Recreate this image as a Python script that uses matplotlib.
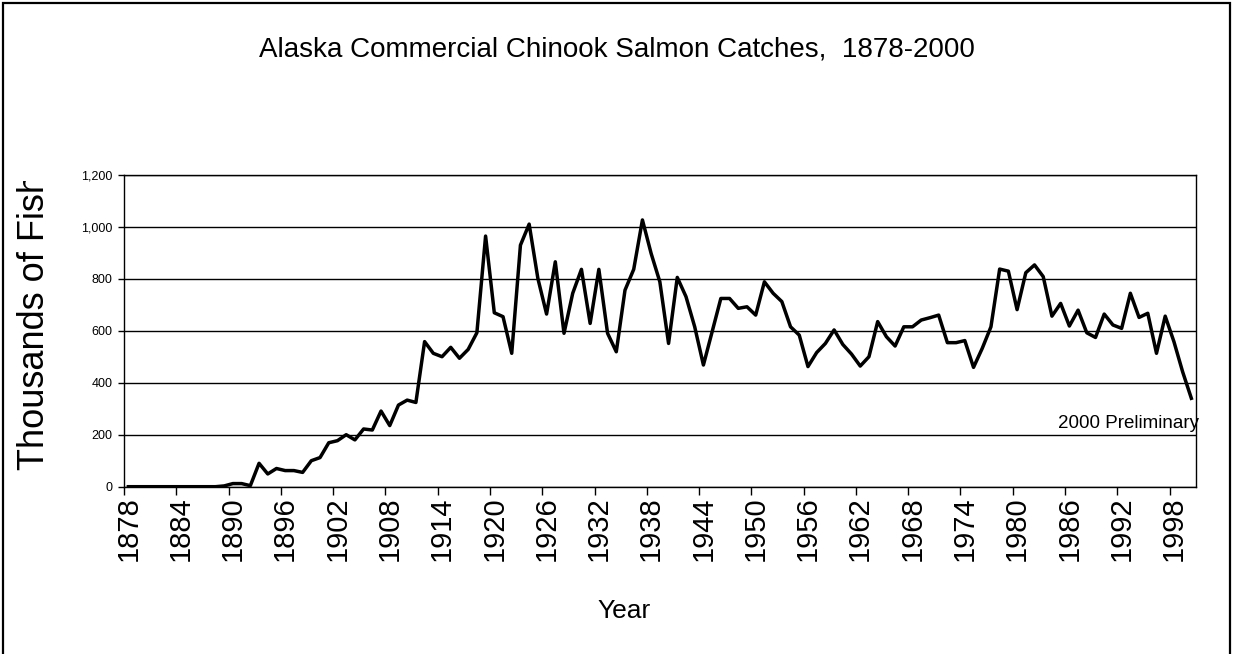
import matplotlib
matplotlib.use("Agg")
import matplotlib.pyplot as plt
from matplotlib.patches import Rectangle
from matplotlib.ticker import FuncFormatter, FixedLocator
from matplotlib.transforms import Bbox, TransformedBbox
import numpy as np

plt.rcParams["font.family"] = ["Liberation Sans", "DejaVu Sans"]

# Alaska commercial Chinook catch, thousands of fish per year
years = np.arange(1878, 2001)
catches = [
    0, 0, 0, 0, 0, 0, 0, 0, 0, 0, 0,                       # 1878-1888
    3, 12, 12, 4, 90, 49, 70, 62, 62, 55, 100,             # 1889-1899
    112, 169, 177, 200, 180, 222, 218, 291, 235, 314,      # 1900-1909
    333, 324, 558, 513, 500, 536, 494, 528, 592, 964,      # 1910-1919
    669, 654, 513, 929, 1010, 801, 664, 865, 590, 744,     # 1920-1929
    836, 628, 836, 590, 519, 756, 836, 1026, 897, 788,     # 1930-1939
    551, 805, 731, 615, 468, 596, 724, 724, 686, 692,      # 1940-1949
    660, 788, 744, 712, 615, 583, 462, 516, 551, 603,      # 1950-1959
    547, 510, 464, 500, 635, 577, 541, 615, 615, 641,      # 1960-1969
    650, 660, 554, 554, 562, 459, 532, 615, 837, 829,      # 1970-1979
    681, 823, 853, 808, 656, 705, 618, 679, 592, 574,      # 1980-1989
    664, 622, 609, 744, 651, 667, 513, 656, 558, 442,      # 1990-1999
    340,                                                   # 2000
]
label_years = list(range(1878, 2000, 6))
y_ticks = [0, 200, 400, 600, 800, 1000, 1200]

W, H = 1233, 654
fig = plt.figure(figsize=(W / 100, H / 100), dpi=100)
fig.patch.set_facecolor("white")
# outer chart frame (runs off the bottom edge)
fig.patches.append(Rectangle((3 / W, -0.02), 1 - 6 / W, 1.02 - 3 / H,
                             transform=fig.transFigure, fill=False,
                             edgecolor="black", linewidth=1.6))

ax = fig.add_axes([124 / W, 1 - 486.7 / H, 1071.7 / W, 312 / H])
ax.plot(years, catches, color="black", linewidth=2.5, solid_joinstyle="round")

# category axis: labels centred on the year, tick marks on the boundaries
ax.set_xlim(1877.5, 2000.5)
ax.xaxis.set_major_locator(FixedLocator(label_years))
ax.xaxis.set_minor_locator(FixedLocator([y - 0.5 for y in label_years]))
ax.tick_params(axis="x", which="major", length=0, pad=6.7, labelsize=21,
               labelrotation=90)
ax.tick_params(axis="x", which="minor", length=6, width=1.0, color="black",
               direction="out")

ax.set_ylim(0, 1200)
ax.set_yticks(y_ticks)
ax.yaxis.set_major_formatter(FuncFormatter(lambda v, p: f"{int(v):,}"))
ax.tick_params(axis="y", length=4, width=1.0, pad=4.3, labelsize=9)
ax.yaxis.grid(True, color="black", linewidth=1.0)
ax.set_axisbelow(True)
for s in ax.spines.values():
    s.set_linewidth(1.0)
    s.set_color("black")

ax.text(1984.7, 225, "2000 Preliminary", fontsize=13.5, va="baseline")

fig.text(0.5, 1 - 57 / H, "Alaska Commercial Chinook Salmon Catches,  1878-2000",
         ha="center", va="baseline", fontsize=20)
fig.text(624 / W, 1 - 618 / H, "Year", ha="center", va="baseline", fontsize=19)

# axis title is cut off at the top of the plot area
ylab = fig.text(35 / W, 1 - 470 / H, "Thousands of Fish", rotation=90,
                ha="center", va="bottom", fontsize=26)
ylab.set_clip_box(TransformedBbox(Bbox([[0, 0], [0.2, 1 - 180.5 / H]]),
                                  fig.transFigure))
ylab.set_clip_on(True)

fig.savefig("out.png", dpi=100, facecolor="white")
plt.close(fig)
